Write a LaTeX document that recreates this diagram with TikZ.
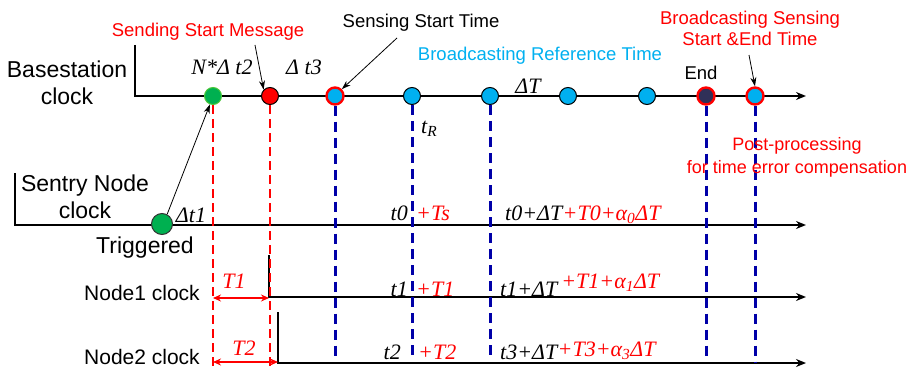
\documentclass[tikz,border=0pt]{standalone}
\usepackage{fontspec}
\setmainfont{Liberation Sans}
\newfontfamily\tnr{Liberation Serif}
\usetikzlibrary{arrows.meta}
\definecolor{cyanB}{HTML}{00B0F0}
\definecolor{greenD}{HTML}{00B050}
\definecolor{redD}{HTML}{FF0000}
\definecolor{blueD}{HTML}{0000A8}
\definecolor{endD}{HTML}{303058}
\begin{document}
\begin{tikzpicture}[x=1pt,y=-1pt,
  axis/.style={draw=black, line width=2pt, -{Stealth[length=10pt,width=8pt]}},
  dot/.style={circle, draw=black, line width=1pt, minimum size=17pt, inner sep=0pt},
  bigdot/.style={circle, draw=black!80, line width=1pt, minimum size=21pt, inner sep=0pt, fill=greenD},
  reddash/.style={draw=redD, line width=2.6pt, dash pattern=on 9pt off 5pt},
  bluedash/.style={draw=blueD, line width=3pt, dash pattern=on 10pt off 6pt},
  lbl/.style={font=\fontsize{18.5}{21.5}\selectfont, inner sep=0pt, align=center},
  big/.style={font=\fontsize{23}{27.5}\selectfont, inner sep=0pt, align=center},
  mid/.style={font=\fontsize{21}{25}\selectfont, inner sep=0pt},
  mlbl/.style={font=\tnr\itshape\fontsize{22}{24}\selectfont, inner sep=0pt},
  pointer/.style={draw=black, line width=0.8pt, -{Stealth[length=9pt,width=6pt]}},
  span/.style={draw=redD, line width=2pt, {Stealth[length=8pt,width=7pt]}-{Stealth[length=8pt,width=7pt]}}
]
\useasboundingbox (0,0) rectangle (914,369);

% ---- axes ----
\coordinate (bsT) at (135,45); \coordinate (bsO) at (135,96); \coordinate (bsE) at (806,96);
\coordinate (snT) at (15,173); \coordinate (snO) at (15,225); \coordinate (snE) at (806,225);
\coordinate (n1T) at (269,255); \coordinate (n1O) at (269,297); \coordinate (n1E) at (806,297);
\coordinate (n2T) at (278,312); \coordinate (n2O) at (278,363); \coordinate (n2E) at (806,363);
\draw[axis] (bsT) -- (bsO) -- (bsE);
\draw[axis] (snT) -- (snO) -- (snE);
\draw[axis] (n1T) -- (n1O) -- (n1E);
\draw[axis] (n2T) -- (n2O) -- (n2E);

% ---- dots on basestation clock ----
\node[dot, draw=greenD!70!yellow, fill=greenD] (g) at (213,96) {};
\node[dot, fill=redD] (r) at (270,96) {};
\node[dot, draw=redD, line width=2.4pt, fill=cyanB] (s) at (335,96) {};
\node[dot, fill=cyanB] (b1) at (412,96) {};
\node[dot, fill=cyanB] (b2) at (490,96) {};
\node[dot, fill=cyanB] (b3) at (568,96) {};
\node[dot, fill=cyanB] (b4) at (647,96) {};
\node[dot, draw=redD, line width=2.4pt, fill=endD] (e) at (706,96) {};
\node[dot, draw=redD, line width=2.4pt, fill=cyanB] (f) at (755,96) {};
\node[bigdot] (trig) at (162,224) {};

% ---- dashed verticals ----
\coordinate (gB) at (213,369); \coordinate (rB) at (270,369);
\coordinate (sB) at (335,357); \coordinate (b1B) at (412,356);
\coordinate (b2B) at (490,358); \coordinate (eB) at (706,356); \coordinate (fB) at (755,362);
\draw[reddash] (g.south) -- (gB);
\draw[reddash] (r.south) -- (rB);
\draw[bluedash] (s.south) -- (sB);
\draw[bluedash] (b1.south) -- (b1B);
\draw[bluedash] (b2.south) -- (b2B);
\draw[bluedash] (e.south) -- (eB);
\draw[bluedash] (f.south) -- (fB);

% ---- T1 / T2 spans ----
\coordinate (t1L) at (213,298); \coordinate (t1R) at (269,298);
\coordinate (t2L) at (213,362); \coordinate (t2R) at (278,362);
\draw[span] (t1L) -- (t1R);
\draw[span] (t2L) -- (t2R);
\node[mlbl, text=redD, anchor=base] (T1) at (234,288) {T1};
\node[mlbl, text=redD, anchor=base] (T2) at (244,355) {T2};

% ---- clock labels ----
\node[big] (bsl) at (67,83) {Basestation\\clock};
\node[big] (snl) at (85,197) {Sentry Node\\clock};
\node[big] (trl) at (145,248) {Triggered};
\node[mid] (n1l) at (142,293) {Node1 clock};
\node[mid] (n2l) at (142,357) {Node2 clock};

% ---- annotations ----
\node[lbl, text=redD] (ssm) at (208,32) {Sending Start Message};
\node[lbl] (sst) at (421,23) {Sensing Start Time};
\node[lbl, text=cyanB] (brt) at (540,56) {Broadcasting Reference Time};
\node[lbl, text=redD, font=\fontsize{18.5}{21}\selectfont] (bss) at (750,28) {Broadcasting Sensing\\Start \&End Time};
\node[lbl] (endl) at (701,73) {End};
\node[lbl, text=redD, font=\fontsize{18}{23}\selectfont] (pp) at (797,157) {Post-processing\\for time error compensation};

\coordinate (ssmP) at (255,45);
\coordinate (sstP) at (397,38);
\coordinate (bssP) at (749,55);
\draw[pointer] (ssmP) -- (r.north west);
\draw[pointer] (sstP) -- (s.north east);
\draw[pointer] (bssP) -- (f.north);
\draw[pointer] (trig.62) -- (g.250);

% ---- math labels on basestation ----
\node[mlbl, anchor=base] (nt2) at (222,75) {N*Δ t2};
\node[mlbl, anchor=base] (dt3) at (304,75) {Δ t3};
\node[mlbl, anchor=base] (dT) at (528,94) {ΔT};
\node[mlbl, anchor=base west] (tR) at (421,133) {t\textsubscript{R}};
\node[mlbl, anchor=base] (dt1) at (191,222) {Δt1};

% ---- sentry line labels ----
\node[mlbl, anchor=base east] (t0) at (408,220) {t0};
\node[mlbl, anchor=base west, text=redD] (Ts) at (416,220) {+Ts};
\node[mlbl, anchor=base west] (t0d) at (505,220) {t0+ΔT};
\node[mlbl, anchor=base west, text=redD] (t0r) at (t0d.base east) {+T0+α\textsubscript{0}ΔT};

% ---- node1 labels ----
\node[mlbl, anchor=base east] (t1) at (408,296) {t1};
\node[mlbl, anchor=base west, text=redD] (T1a) at (416,296) {+T1};
\node[mlbl, anchor=base west] (t1d) at (500,296) {t1+ΔT};
\node[mlbl, anchor=base west, text=redD] (t1r) at ([yshift=8pt]t1d.base east) {\,+T1+α\textsubscript{1}ΔT};

% ---- node2 labels ----
\node[mlbl, anchor=base east] (t2) at (401,359) {t2};
\node[mlbl, anchor=base west, text=redD] (T2a) at (418,359) {+T2};
\node[mlbl, anchor=base west] (t3d) at (500,359) {t3+ΔT};
\node[mlbl, anchor=base west, text=redD] (t3r) at ([yshift=3pt]t3d.base east) {+T3+α\textsubscript{3}ΔT};
\end{tikzpicture}
\end{document}
